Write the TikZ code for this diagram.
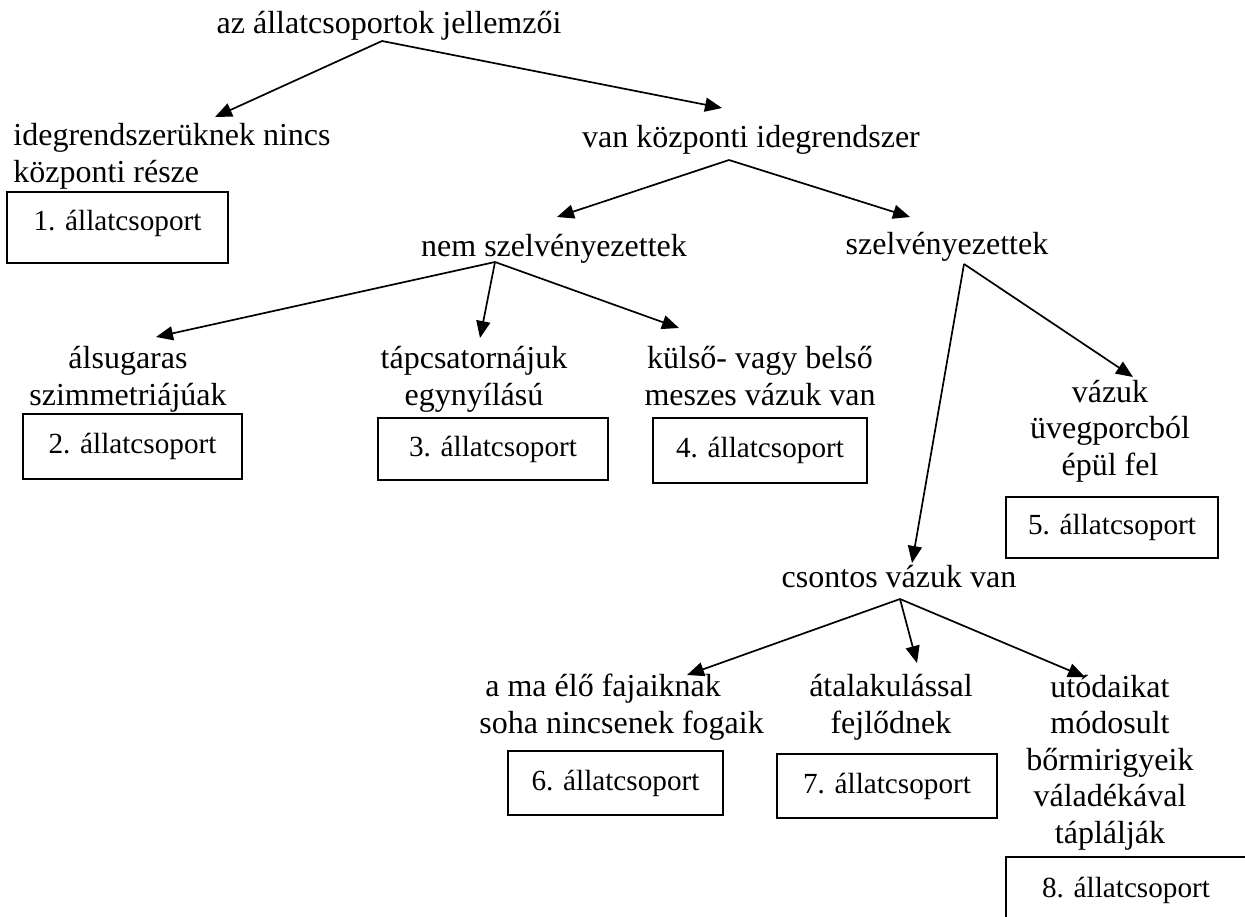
\documentclass[tikz,border=0pt]{standalone}
\usepackage{fontspec}
\setmainfont{Liberation Serif}
\usetikzlibrary{arrows.meta}
\begin{document}
\begin{tikzpicture}[x=0.5pt,y=-0.5pt,
  every node/.style={inner sep=0pt, font=\fontsize{16}{18.25}\selectfont},
  lbl/.style={anchor=base, align=center},
  lbll/.style={anchor=base west, align=left},
  box/.style={draw, line width=0.85pt, anchor=center, font=\fontsize{14.6}{17}\selectfont},
  arr/.style={line width=0.85pt, -{Triangle[length=8.5pt,width=7pt]}}]

\useasboundingbox (0,0) rectangle (1245,916);
\clip (0,0) rectangle (1245,916);

% text labels (anchor = baseline of the last line)
\node[lbl] (title) at (389,33) {az állatcsoportok jellemzői};
\node[lbll] (ideg) at (13,182) {idegrendszerüknek nincs\\központi része};
\node[lbl] (van) at (751,147) {van központi idegrendszer};
\node[lbl] (nem) at (554,256) {nem szelvényezettek};
\node[lbl] (szelv) at (947,254) {szelvényezettek};
\node[lbl] (als) at (128,405) {álsugaras\\szimmetriájúak};
\node[lbl] (tap) at (474,405) {tápcsatornájuk\\egynyílású};
\node[lbl] (kuls) at (760,405) {külső- vagy belső\\meszes vázuk van};
\node[lbl] (vaz) at (1110,475) {vázuk\\üvegporcból\\épül fel};
\node[lbl] (csont) at (899,587) {csontos vázuk van};
\node[lbll] (ama) at (479,733) {\hspace*{3pt}a ma élő fajaiknak\\soha nincsenek fogaik};
\node[lbl] (ata) at (891,733) {átalakulással\\fejlődnek};
\node[lbl] (uto) at (1110,843) {utódaikat\\módosult\\bőrmirigyeik\\váladékával\\táplálják};

% boxes
\node[box, minimum width=110.5pt, minimum height=35.5pt, text height=10pt, text depth=7.5pt] (b1) at (117.5,227.5) {1. állatcsoport};
\node[box, minimum width=109.5pt, minimum height=32.5pt] (b2) at (132.5,446.5) {2. állatcsoport};
\node[box, minimum width=115pt, minimum height=31pt] (b3) at (493,449) {3. állatcsoport};
\node[box, minimum width=107pt, minimum height=32.5pt] (b4) at (760,450.5) {4. állatcsoport};
\node[box, minimum width=106pt, minimum height=30.5pt] (b5) at (1112,527.5) {5. állatcsoport};
\node[box, minimum width=107.5pt, minimum height=32pt] (b6) at (615.5,783) {6. állatcsoport};
\node[box, minimum width=110pt, minimum height=32pt] (b7) at (887,786) {7. állatcsoport};
\node[box, minimum width=120pt, minimum height=38pt, text height=10pt, text depth=8pt] (b8) at (1126,895) {8. állatcsoport};

% connector end points
\coordinate (title-o) at (382,41);
\coordinate (ideg-i) at (215,117);
\coordinate (van-i) at (722,108);
\coordinate (van-o) at (729,160);
\coordinate (nem-i) at (557,217);
\coordinate (szelv-i) at (910,217);
\coordinate (nem-o) at (495,262);
\coordinate (als-i) at (156,337);
\coordinate (tap-i) at (480,338);
\coordinate (kuls-i) at (679,328);
\coordinate (szelv-o) at (964,264);
\coordinate (vaz-i) at (1133,377);
\coordinate (csont-i) at (912,563);
\coordinate (csont-o) at (900,599);
\coordinate (ama-i) at (687,675);
\coordinate (ata-i) at (917,663);
\coordinate (uto-i) at (1085,677);

% connectors
\draw[arr] (title-o) -- (ideg-i);
\draw[arr] (title-o) -- (van-i);
\draw[arr] (van-o) -- (nem-i);
\draw[arr] (van-o) -- (szelv-i);
\draw[arr] (nem-o) -- (als-i);
\draw[arr] (nem-o) -- (tap-i);
\draw[arr] (nem-o) -- (kuls-i);
\draw[arr] (szelv-o) -- (vaz-i);
\draw[arr] (szelv-o) -- (csont-i);
\draw[arr] (csont-o) -- (ama-i);
\draw[arr] (csont-o) -- (ata-i);
\draw[arr] (csont-o) -- (uto-i);
\end{tikzpicture}
\end{document}
